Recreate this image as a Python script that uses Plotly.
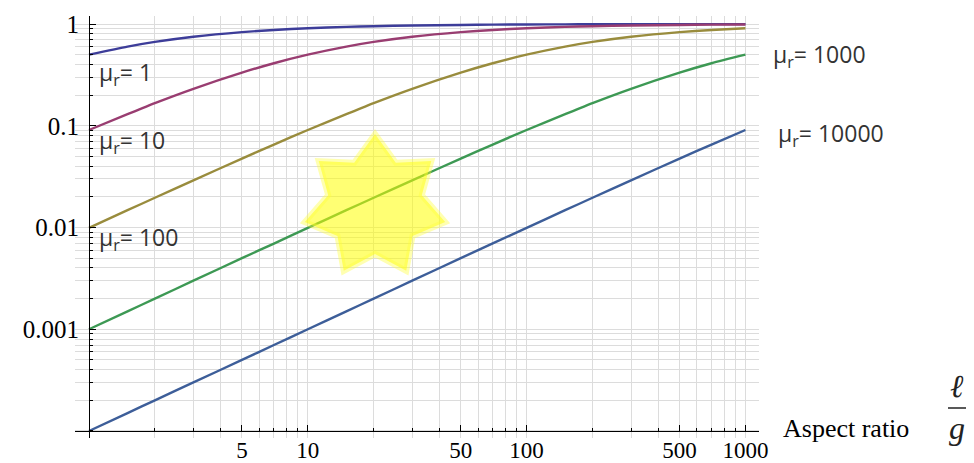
import math
import plotly.graph_objects as go

# ---- data ----
aspect_ratio = [1, 1.5, 2, 3, 5, 7, 10, 15, 20, 30, 50, 70, 100, 150, 200, 300, 500, 700, 1000]
mu_labels = ["1", "10", "100", "1000", "10000"]
vals_mu1 = [0.5, 0.6, 0.667, 0.75, 0.833, 0.875, 0.909, 0.9375, 0.952, 0.968, 0.980, 0.986, 0.990, 0.993, 0.995, 0.997, 0.998, 0.9986, 0.999]
vals_mu10 = [0.0909, 0.130, 0.167, 0.231, 0.333, 0.412, 0.5, 0.6, 0.667, 0.75, 0.833, 0.875, 0.909, 0.9375, 0.952, 0.968, 0.980, 0.986, 0.990]
vals_mu100 = [0.0099, 0.0148, 0.0196, 0.0291, 0.0476, 0.0654, 0.0909, 0.130, 0.167, 0.231, 0.333, 0.412, 0.5, 0.6, 0.667, 0.75, 0.833, 0.875, 0.909]
vals_mu1000 = [0.001, 0.0015, 0.002, 0.003, 0.005, 0.00695, 0.0099, 0.0148, 0.0196, 0.0291, 0.0476, 0.0654, 0.0909, 0.130, 0.167, 0.231, 0.333, 0.412, 0.5]
vals_mu10000 = [0.0001, 0.00015, 0.0002, 0.0003, 0.0005, 0.0007, 0.001, 0.0015, 0.002, 0.003, 0.005, 0.00698, 0.0099, 0.0148, 0.0196, 0.0291, 0.0476, 0.0654, 0.0909]

x_tick_vals = [5, 10, 50, 100, 500, 1000]
x_tick_text = ["5", "10", "50", "100", "500", "1000"]
y_tick_vals = [1, 0.1, 0.01, 0.001]
y_tick_text = ["1", "0.1", "0.01", "0.001"]

series = [vals_mu1, vals_mu10, vals_mu100, vals_mu1000, vals_mu10000]
colors = ["#3D3D99", "#993D71", "#998C3D", "#3D9954", "#3D5E99"]

# minor positions (2..9 x each decade)
x_minor = [m * 10 ** d for d in range(0, 4) for m in range(1, 10) if m * 10 ** d not in x_tick_vals and m * 10 ** d <= 1000]
y_minor = [m * 10.0 ** d for d in range(-4, 1) for m in range(1, 10) if round(m * 10.0 ** d, 8) not in y_tick_vals and m * 10.0 ** d <= 1]

X_RANGE = [-0.064, 3.062]
Y_RANGE = [-4.069, 0.079]

fig = go.Figure()
for vals, col in zip(series, colors):
    fig.add_trace(go.Scatter(x=aspect_ratio, y=vals, mode="lines",
                             line=dict(color=col, width=2.4, shape="spline", smoothing=0.6),
                             showlegend=False, hoverinfo="skip"))

grid_col = "#dcdcdc"

fig.update_xaxes(type="log", range=X_RANGE, tickmode="array", tickvals=x_tick_vals, ticktext=x_tick_text,
                 showgrid=True, gridcolor=grid_col, gridwidth=1, automargin=False,
                 showline=True, linecolor="black", linewidth=1,
                 ticks="inside", ticklen=6, tickcolor="black", ticklabelstandoff=-2,
                 anchor="free", position=(-4 - Y_RANGE[0]) / (Y_RANGE[1] - Y_RANGE[0]),
                 tickfont=dict(family="Liberation Serif", size=23, color="black"), zeroline=False,
                 minor=dict(tickmode="array", tickvals=x_minor, ticks="inside", ticklen=3,
                            tickcolor="black", showgrid=True, gridcolor=grid_col, gridwidth=1))
fig.update_yaxes(type="log", range=Y_RANGE, tickmode="array", tickvals=y_tick_vals, ticktext=y_tick_text,
                 showgrid=True, gridcolor=grid_col, gridwidth=1, automargin=False,
                 showline=True, linecolor="black", linewidth=1,
                 ticks="inside", ticklen=6, tickcolor="black", ticklabelstandoff=5,
                 anchor="free", position=(0 - X_RANGE[0]) / (X_RANGE[1] - X_RANGE[0]),
                 tickfont=dict(family="Liberation Serif", size=25, color="black"), zeroline=False,
                 minor=dict(tickmode="array", tickvals=y_minor, ticks="inside", ticklen=3,
                            tickcolor="black", showgrid=True, gridcolor=grid_col, gridwidth=1))

# plot area in screen pixels; the page body adds an 8px offset
OFF = 8
L, R, T, B = 75, 759, 16, 438
W, H = 974 - OFF, 463 - OFF


def px(xp):
    return (xp - L) / (R - L)


def py(yp):
    return (B - yp) / (B - T)


label_font = dict(family="Open Sans", size=23, color="#333333")
left_labels = [(mu_labels[0], 97, 73), (mu_labels[1], 97, 141), (mu_labels[2], 97, 238)]
right_labels = [(mu_labels[3], 771, 56), (mu_labels[4], 776, 135)]
for txt, xp, yp in left_labels + right_labels:
    fig.add_annotation(x=px(xp), y=py(yp), xref="paper", yref="paper", xanchor="left", yanchor="middle",
                       text="μ<sub>r</sub>= " + txt, showarrow=False, font=label_font)

fig.add_annotation(x=px(781), y=py(428), xref="paper", yref="paper", xanchor="left", yanchor="middle",
                   text="Aspect ratio", showarrow=False,
                   font=dict(family="Liberation Serif", size=26, color="black"))
frac_font = dict(family="Liberation Serif", size=32, color="#222222")
fig.add_annotation(x=px(957), y=py(386), xref="paper", yref="paper", xanchor="center", yanchor="middle",
                   text="<i>ℓ</i>", showarrow=False, font=frac_font)
fig.add_annotation(x=px(957), y=py(428), xref="paper", yref="paper", xanchor="center", yanchor="middle",
                   text="<i>g</i>", showarrow=False, font=frac_font)
fig.add_shape(type="line", xref="paper", yref="paper", x0=px(948), x1=px(966), y0=py(408), y1=py(408),
              line=dict(color="#222222", width=1.5))

# decorative 7-pointed star
cx, cy, r_out, r_in = 375, 206, 72, 48
pts = []
for k in range(14):
    ang = math.pi * k / 7
    r = r_out if k % 2 == 0 else r_in
    pts.append((px(cx + r * math.sin(ang)), py(cy - r * math.cos(ang))))
path = "M " + " L ".join(f"{a:.5f},{b:.5f}" for a, b in pts) + " Z"
fig.add_shape(type="path", xref="paper", yref="paper", path=path, layer="above",
              fillcolor="rgba(255,255,0,0.55)", line=dict(color="rgba(255,255,60,0.4)", width=6))

fig.update_layout(width=W, height=H,
                  margin=dict(l=L - OFF, r=W - (R - OFF), t=T - OFF, b=H - (B - OFF), autoexpand=False),
                  plot_bgcolor="white", paper_bgcolor="white", showlegend=False)

fig.write_html("out.html")
